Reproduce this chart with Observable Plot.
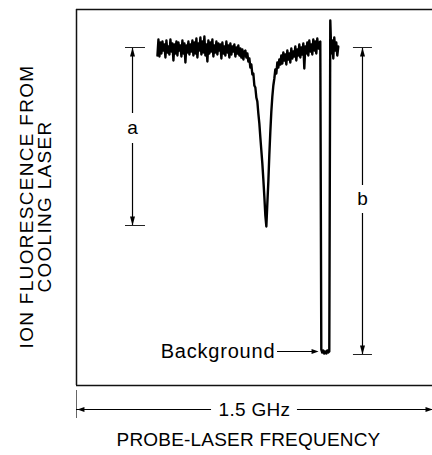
<!DOCTYPE html>
<html>
<head>
<meta charset="utf-8">
<script src="https://cdn.jsdelivr.net/npm/d3@7"></script>
<script src="https://cdn.jsdelivr.net/npm/@observablehq/plot@0.6"></script>
<style>
  body { margin: 0; background: #fff; }
  [aria-label="y-title"] { letter-spacing: 1.3px; }
  [aria-label="x-title"] { letter-spacing: 0.2px; }
  [aria-label="span-label"] { letter-spacing: 0.3px; }
  [aria-label="background-label"] { letter-spacing: 0.8px; }
</style>
</head>
<body>
<div id="chart"></div>
<script>
// Probe-laser sweep: fluorescence counts, one sample per sweep step
const sweepStartGHz = 0.341;
const sweepStepGHz = 0.00421;
const spanGHz = 1.5;
const counts = [
  298,314,297,311,300,312,303,309,296,313,
  301,307,299,314,302,310,293,309,300,312,
  298,311,303,308,297,313,300,310,291,308,
  301,312,299,309,302,313,298,311,300,315,
  296,310,303,316,299,312,301,317,298,309,
  292,313,300,311,302,314,297,308,301,312,
  299,310,303,309,295,311,300,307,298,312,
  301,308,296,310,299,307,302,309,297,306,
  300,308,298,305,296,304,294,302,
  303,296,300,292,295,286,289,279,280,268,
  266,256,252,240,230,216,203,190,174,157,
  138,127,150,172,199,222,242,257,268,275,
  284,280,291,286,294,289,
  298,290,301,293,299,289,303,294,300,291,
  305,295,302,297,307,293,304,298,309,296,
  306,299,310,285,307,300,311,298,313,302,
  309,299,314,303,312,300,315,305,311,
  312,4,1,3,0,2,0,3,1,2,
  333,300,313,295,316,303,311,298,307
];

// Levels (counts)
const baselineLevel = 306;
const backgroundLevel = -1;
const dipLevel = 128;
const yDomain = [-32, 344];

// Annotation placement (GHz / counts)
const aX = 0.236, aTicks = [0.2065, 0.2907], aGap = [240, 210], aLabelY = 226;
const bX = 1.205, bTicks = [1.167, 1.247], bGap = [168, 140], bLabelY = 155;
const spanY = -56, spanBar = [-37, -65], spanGap = [0.569, 0.931], spanLabelX = 0.75;
const bgY = 2, bgText = 0.838, bgArrow = [0.847, 1.020];

const labels = {
  y: "ION FLUORESCENCE FROM\nCOOLING LASER",
  x: "PROBE-LASER FREQUENCY",
  span: "1.5 GHz",
  background: "Background",
  a: "a",
  b: "b"
};

const trace = counts.map((c, i) => ({freq: sweepStartGHz + i * sweepStepGHz, counts: c}));

const L = 9, W = 2.5, Lh = 7, Wh = 2.6;
const headUp = {draw(ctx) { ctx.moveTo(0, 0); ctx.lineTo(-W, L); ctx.lineTo(W, L); ctx.closePath(); }};
const headDown = {draw(ctx) { ctx.moveTo(0, 0); ctx.lineTo(-W, -L); ctx.lineTo(W, -L); ctx.closePath(); }};
const headLeft = {draw(ctx) { ctx.moveTo(0, 0); ctx.lineTo(Lh, -Wh); ctx.lineTo(Lh, Wh); ctx.closePath(); }};
const headRight = {draw(ctx) { ctx.moveTo(0, 0); ctx.lineTo(-Lh, -Wh); ctx.lineTo(-Lh, Wh); ctx.closePath(); }};

const shafts = [
  {x: aX, y1: baselineLevel, y2: aGap[0]},
  {x: aX, y1: aGap[1], y2: dipLevel},
  {x: bX, y1: baselineLevel, y2: bGap[0]},
  {x: bX, y1: bGap[1], y2: backgroundLevel}
];
const ticks = [
  {y: baselineLevel, x1: aTicks[0], x2: aTicks[1]},
  {y: dipLevel, x1: aTicks[0], x2: aTicks[1]},
  {y: baselineLevel, x1: bTicks[0], x2: bTicks[1]},
  {y: backgroundLevel, x1: bTicks[0], x2: bTicks[1]}
];
const hLines = [
  {y: spanY, x1: 0, x2: spanGap[0]},
  {y: spanY, x1: spanGap[1], x2: spanGHz},
  {y: bgY, x1: bgArrow[0], x2: bgArrow[1] - 0.01}
];

const chart = Plot.plot({
  width: 432,
  height: 455,
  marginLeft: 76,
  marginRight: 0,
  marginTop: 9,
  marginBottom: 70,
  x: {domain: [0, spanGHz], axis: null},
  y: {domain: yDomain, axis: null},
  style: {fontFamily: "'Liberation Sans', Arial, Helvetica, sans-serif", background: "white", color: "black"},
  marks: [
    // frame (left, top, bottom)
    Plot.ruleX([0], {stroke: "#111", strokeWidth: 1.5}),
    Plot.ruleY(yDomain, {stroke: "#111", strokeWidth: 1.5}),
    // trace
    Plot.line(trace, {x: "freq", y: "counts", stroke: "black", strokeWidth: 2.4, strokeLinejoin: "round"}),
    // a / b dimension arrows
    Plot.ruleX(shafts, {x: "x", y1: "y1", y2: "y2", stroke: "black", strokeWidth: 1.2}),
    Plot.ruleY(ticks, {y: "y", x1: "x1", x2: "x2", stroke: "#222", strokeWidth: 1}),
    Plot.dot([{x: aX, y: baselineLevel}, {x: bX, y: baselineLevel}], {x: "x", y: "y", symbol: headUp, fill: "black", stroke: "none"}),
    Plot.dot([{x: aX, y: dipLevel}, {x: bX, y: backgroundLevel}], {x: "x", y: "y", symbol: headDown, fill: "black", stroke: "none"}),
    Plot.text([{x: aX, y: aLabelY, t: labels.a}, {x: bX, y: bLabelY, t: labels.b}], {x: "x", y: "y", text: "t", fontSize: 19}),
    // span arrow and background arrow
    Plot.ruleX([0], {y1: spanBar[0], y2: spanBar[1], stroke: "#666", strokeWidth: 1}),
    Plot.ruleY(hLines, {y: "y", x1: "x1", x2: "x2", stroke: "black", strokeWidth: 1.2}),
    Plot.dot([{x: 0.004, y: spanY}], {x: "x", y: "y", symbol: headLeft, fill: "black", stroke: "none"}),
    Plot.dot([{x: spanGHz, y: spanY}, {x: bgArrow[1], y: bgY}], {x: "x", y: "y", symbol: headRight, fill: "black", stroke: "none"}),
    Plot.text([{x: spanLabelX, y: spanY, t: labels.span}], {x: "x", y: "y", text: "t", fontSize: 19, ariaLabel: () => "span-label"}),
    Plot.text([{x: bgText, y: bgY, t: labels.background}], {x: "x", y: "y", text: "t", textAnchor: "end", fontSize: 20, ariaLabel: () => "background-label"}),
    // axis titles
    Plot.text([labels.y], {frameAnchor: "left", textAnchor: "middle", lineAnchor: "middle", rotate: -90, dx: -40, dy: 9, fontSize: 19, lineHeight: 0.92, ariaLabel: () => "y-title"}),
    Plot.text([labels.x], {frameAnchor: "bottom", textAnchor: "middle", lineAnchor: "middle", dx: -6, dy: 54, fontSize: 19, ariaLabel: () => "x-title"})
  ]
});
document.getElementById("chart").appendChild(chart);
</script>
</body>
</html>
